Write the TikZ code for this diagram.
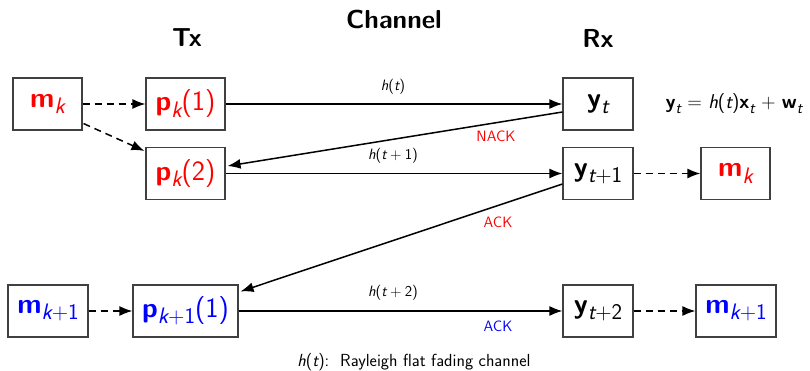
\documentclass[tikz,border=0pt]{standalone}
\usepackage{fix-cm}
\usetikzlibrary{arrows.meta,calc}
\makeatletter
% subscript at 80% of the current size, lowered
\newcommand\lowsub[1]{\raisebox{-0.22em}{\fontsize{\strip@pt\dimexpr 0.8\dimexpr\f@size pt\relax\relax}{0}\selectfont #1}}
\makeatother
\newcommand\vb[1]{{\bfseries #1}}
\newcommand\vi[1]{{\itshape #1}}
\begin{document}
\sffamily
\begin{tikzpicture}[x=1pt,y=-1pt,
  box/.style={draw=black!75,line width=1.1pt,minimum height=52pt,inner sep=0pt,fill=white},
  big/.style={font=\sffamily\fontsize{28}{32}\selectfont},
  head/.style={font=\sffamily\fontsize{26}{30}\selectfont\bfseries},
  lbl/.style={font=\sffamily\fontsize{15}{18}\selectfont},
  link/.style={line width=1.5pt,-{Latex[length=13pt,width=10pt]}},
  dlink/.style={link,dash pattern=on 7pt off 5pt}]
\useasboundingbox (0,0) rectangle (810,371);

% headings
\node[head] (tx) at (187,38) {Tx};
\node[head] (ch) at (394,19) {Channel};
\node[head] (rx) at (598,38) {Rx};

% transmitter side
\node[box,big,minimum width=69pt]  (mk)  at (47.5,104)  {\color{red}\vb{m}\lowsub{\vi{k}}};
\node[box,big,minimum width=79pt]  (pk1) at (185.5,104) {\color{red}\vb{p}\lowsub{\vi{k}}(1)};
\node[box,big,minimum width=79pt]  (pk2) at (185.5,173.5) {\color{red}\vb{p}\lowsub{\vi{k}}(2)};
\node[box,big,minimum width=80pt]  (mk1) at (48,311)  {\color{blue}\vb{m}\lowsub{\vi{k}+1}};
\node[box,big,minimum width=105pt] (pb)  at (185.5,311) {\color{blue}\vb{p}\lowsub{\vi{k}+1}(1)};

% receiver side
\node[box,big,minimum width=70pt] (y0) at (598,104)   {\vb{y}\lowsub{\vi{t}}};
\node[box,big,minimum width=70pt] (y1) at (598,173.5) {\vb{y}\lowsub{\vi{t}+1}};
\node[box,big,minimum width=70pt] (y2) at (598,311)   {\vb{y}\lowsub{\vi{t}+2}};
\node[box,big,minimum width=69pt] (mr)  at (735.5,173.5) {\color{red}\vb{m}\lowsub{\vi{k}}};
\node[box,big,minimum width=80pt] (mr1) at (736,311)  {\color{blue}\vb{m}\lowsub{\vi{k}+1}};

% signal model
\node[font=\sffamily\fontsize{20}{24}\selectfont] (eq) at (734,104)
  {\vb{y}\lowsub{\vi{t}}\ =\ \vi{h}(\vi{t})\vb{x}\lowsub{\vi{t}}\ +\ \vb{w}\lowsub{\vi{t}}};

% dashed message links
\draw[dlink] (mk) -- (pk1);
\draw[dlink] ($(mk.south east)+(1,-7)$) -- ($(pk2.north west)+(-1,4)$);
\draw[dlink] (y1) -- (mr);
\draw[dlink] (mk1) -- (pb);
\draw[dlink] (y2) -- (mr1);

% channel uses and feedback
\draw[link] (pk1) -- (y0);
\draw[link] ($(y0.west)+(0,8)$) -- ($(pk2.east)+(2,-7.5)$);
\draw[link] (pk2) -- (y1);
\draw[link] ($(y1.west)+(0,10.5)$) -- ($(pb.north east)+(2,7)$);
\draw[link] (pb) -- (y2);

% labels
\node[lbl] (l0) at (393,87)  {\vi{h}(\vi{t})};
\node[lbl,text=red] (n0) at (496,136) {NACK};
\node[lbl] (l1) at (393,156) {\vi{h}(\vi{t}\:+\:1)};
\node[lbl,text=red] (a1) at (498,222) {ACK};
\node[lbl] (l2) at (393,293) {\vi{h}(\vi{t}\:+\:2)};
\node[lbl,text=blue] (a2) at (498,326) {ACK};
\node[font=\sffamily\fontsize{17.5}{20}\selectfont] (fn) at (414,362) {\vi{h}(\vi{t}):\ \ Rayleigh flat fading channel};
\end{tikzpicture}
\end{document}
